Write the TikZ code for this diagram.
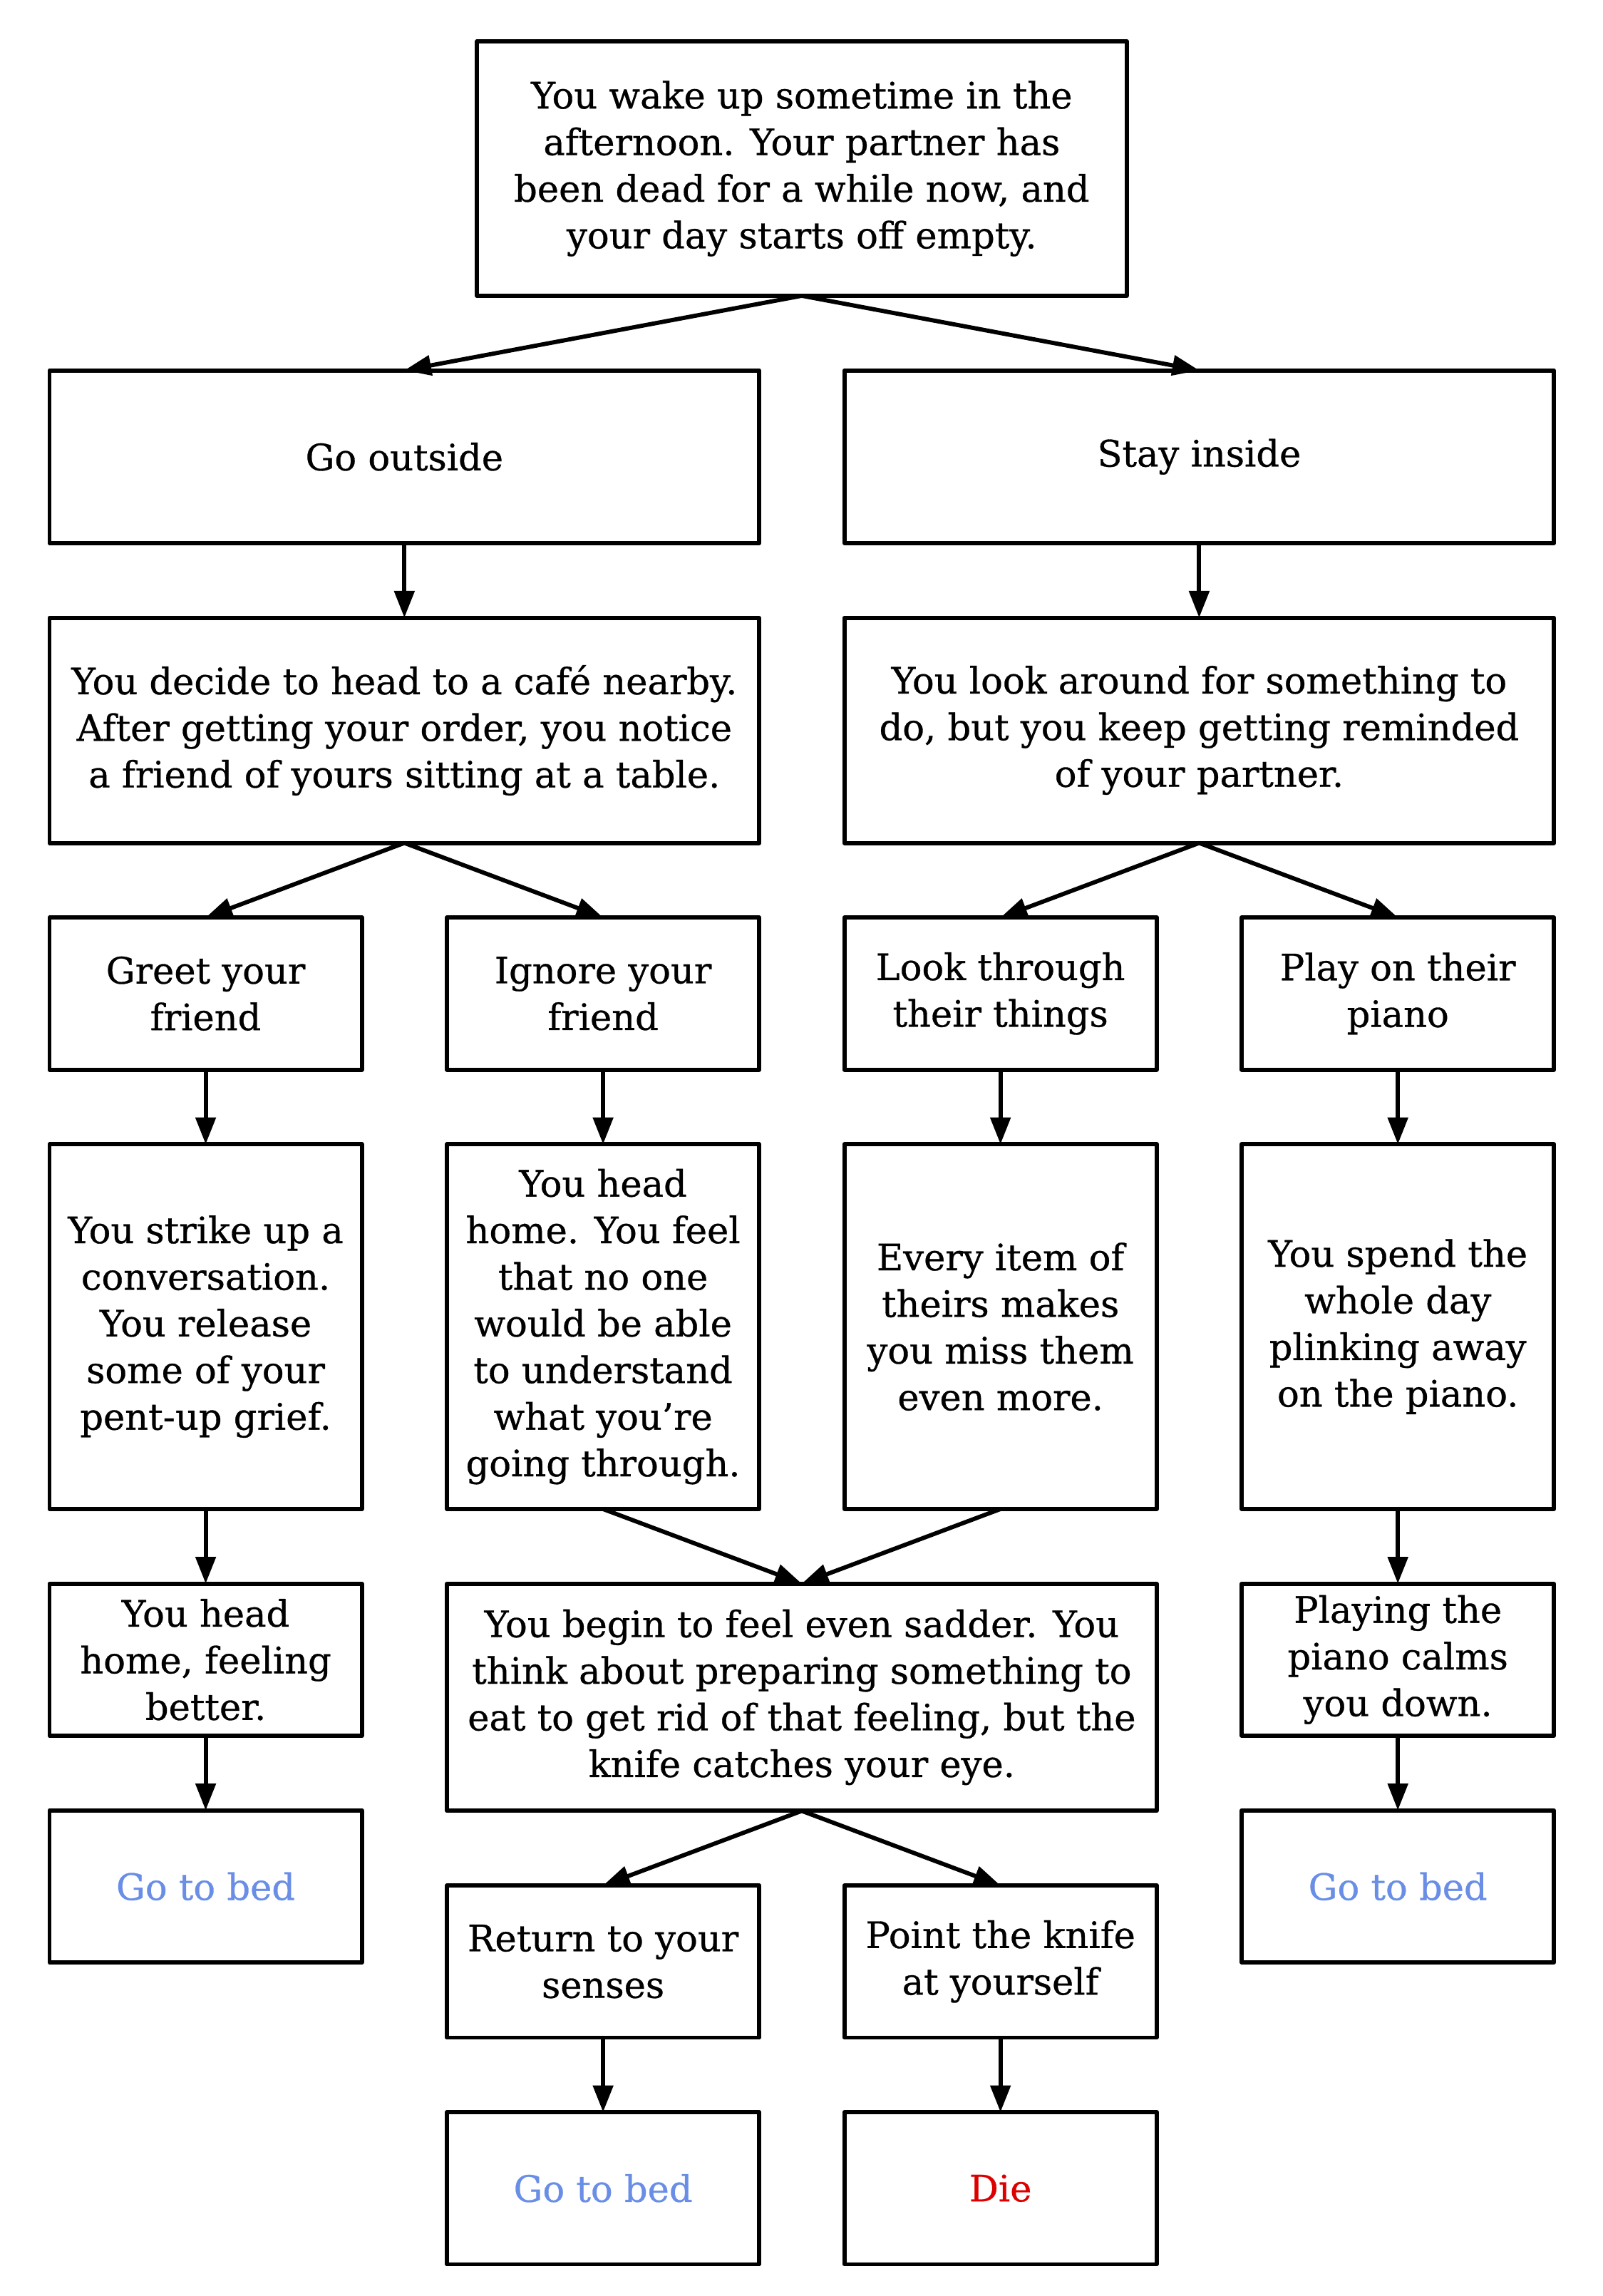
\documentclass[tikz,border=0pt]{standalone}
\usepackage{fontspec}
\setmainfont{DejaVu Serif}[FakeBold=0.6]
\usetikzlibrary{arrows.meta, positioning}
\definecolor{bedblue}{HTML}{6A8EE6}
\definecolor{diered}{HTML}{DD0000}
\tikzstyle{story}=[line width=1.45pt, line join=round, >={Triangle[length=9.2pt,width=6.8pt]}]
\tikzstyle{box}=[draw, rectangle, align=center, inner sep=0pt, outer sep=0pt, font=\fontsize{12.5}{16}\selectfont]
\tikzstyle{wide}=[box, minimum width=243.6pt]
\tikzstyle{narrow}=[box, minimum width=107.2pt]
\tikzstyle{bed}=[narrow, minimum height=52.2pt, text=bedblue]

\begin{document}
\begin{tikzpicture}[story]
  \useasboundingbox (-275.2pt,57.85pt) rectangle (274.8pt,-730.15pt);
  \node[box,minimum width=223pt,minimum height=87.3pt] (wake) at (0,0) {You wake up sometime in the\\afternoon. Your partner has\\been dead for a while now, and\\your day starts off empty.};
  \node[wide,minimum height=59.3pt] (outside) [below=25.6pt of wake, xshift=-136.4pt] {Go outside};
  \node[wide,minimum height=59.3pt] (inside) [right=29.2pt of outside] {Stay inside};
  \node[wide,minimum height=77.3pt] (cafe) [below=25.6pt of outside] {You decide to head to a café nearby.\\After getting your order, you notice\\a friend of yours sitting at a table.};
  \node[wide,minimum height=77.3pt] (look) [below=25.6pt of inside] {You look around for something to\\do, but you keep getting reminded\\of your partner.};
  \node[narrow,minimum height=52.2pt] (greet) [below right=25.6pt and 0pt of cafe.south west] {Greet your\\friend};
  \node[narrow,minimum height=52.2pt] (ignore) [right=29.2pt of greet] {Ignore your\\friend};
  \node[narrow,minimum height=52.2pt] (things) [right=29.2pt of ignore] {Look through\\their things};
  \node[narrow,minimum height=52.2pt] (piano) [right=29.2pt of things] {Play on their\\piano};
  \node[narrow,minimum height=125.2pt] (strike) [below=25.6pt of greet] {You strike up a\\conversation.\\You release\\some of your\\pent-up grief.};
  \node[narrow,minimum height=125.2pt] (home) [below=25.6pt of ignore] {You head\\home. You feel\\that no one\\would be able\\to understand\\what you’re\\going through.};
  \node[narrow,minimum height=125.2pt] (item) [below=25.6pt of things] {Every item of\\theirs makes\\you miss them\\even more.};
  \node[narrow,minimum height=125.2pt] (plink) [below=25.6pt of piano] {You spend the\\whole day\\plinking away\\on the piano.};
  \node[narrow,minimum height=52.2pt] (better) [below=25.6pt of strike] {You head\\home, feeling\\better.};
  \node[wide,minimum height=78pt] (sadder) [below right=25.6pt and 0pt of home.south west] {You begin to feel even sadder. You\\think about preparing something to\\eat to get rid of that feeling, but the\\knife catches your eye.};
  \node[narrow,minimum height=52.2pt] (calm) [below=25.6pt of plink] {Playing the\\piano calms\\you down.};
  \node[bed] (bedA) [below=25.6pt of better] {Go to bed};
  \node[bed] (bedC) [below=25.6pt of calm] {Go to bed};
  \node[narrow,minimum height=52.2pt] (senses) [below right=25.6pt and 0pt of sadder.south west] {Return to your\\senses};
  \node[narrow,minimum height=52.2pt] (knife) [right=29.2pt of senses] {Point the knife\\at yourself};
  \node[bed] (bedB) [below=25.6pt of senses] {Go to bed};
  \node[bed,text=diered] (die) [below=25.6pt of knife] {Die};
  \path[->] (wake.south) edge (outside.north);
  \path[->] (wake.south) edge (inside.north);
  \path[->] (outside) edge (cafe);
  \path[->] (inside) edge (look);
  \path[->] (cafe.south) edge (greet.north);
  \path[->] (cafe.south) edge (ignore.north);
  \path[->] (look.south) edge (things.north);
  \path[->] (look.south) edge (piano.north);
  \path[->] (greet) edge (strike);
  \path[->] (ignore) edge (home);
  \path[->] (things) edge (item);
  \path[->] (piano) edge (plink);
  \path[->] (strike) edge (better);
  \path[->] (home.south) edge (sadder.north);
  \path[->] (item.south) edge (sadder.north);
  \path[->] (plink) edge (calm);
  \path[->] (better) edge (bedA);
  \path[->] (calm) edge (bedC);
  \path[->] (sadder.south) edge (senses.north);
  \path[->] (sadder.south) edge (knife.north);
  \path[->] (senses) edge (bedB);
  \path[->] (knife) edge (die);
\end{tikzpicture}
\end{document}
